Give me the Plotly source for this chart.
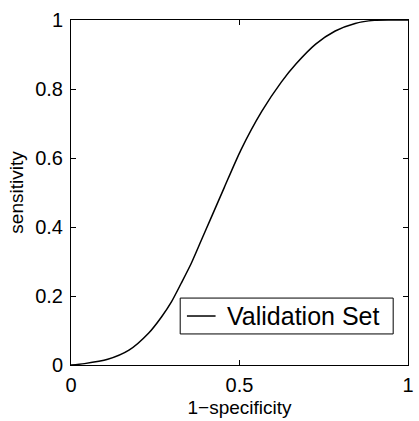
import plotly.graph_objects as go

fpr = [0, 0.04, 0.109, 0.172, 0.23, 0.269, 0.298, 0.327, 0.357, 0.386, 0.415,
       0.455, 0.504, 0.566, 0.624, 0.668, 0.726, 0.784, 0.843, 0.9, 0.95, 1]
tpr = [0, 0.004, 0.0165, 0.043, 0.092, 0.14, 0.183, 0.237, 0.295, 0.36, 0.425,
       0.515, 0.623, 0.735, 0.82, 0.873, 0.93, 0.968, 0.99, 0.999, 1.0, 1.0]
series_name = "Validation Set"
x_ticks = [0, 0.5, 1]
x_tick_labels = ["0", "0.5", "1"]
y_ticks = [0, 0.2, 0.4, 0.6, 0.8, 1]
y_tick_labels = ["0", "0.2", "0.4", "0.6", "0.8", "1"]

font_family = "Liberation Sans, Arial, Helvetica, sans-serif"

fig = go.Figure()
fig.add_trace(go.Scatter(
    x=fpr, y=tpr, mode="lines", name=series_name,
    line=dict(color="black", width=1.5, shape="spline", smoothing=0.7),
    showlegend=False,
))

axis_common = dict(
    showline=True, linecolor="black", linewidth=1, mirror="ticks",
    ticks="inside", ticklen=5, tickcolor="black", tickwidth=1,
    showgrid=False, zeroline=False, ticklabeloverflow="allow",
    tickfont=dict(family=font_family, size=20, color="black"),
)

# Legend box (drawn in paper coordinates, like the boxed legend of the original)
leg_x0, leg_x1, leg_y0, leg_y1 = 0.324, 0.956, 0.090, 0.194
leg_mid = (leg_y0 + leg_y1) / 2
fig.add_shape(type="rect", xref="paper", yref="paper",
              x0=leg_x0, x1=leg_x1, y0=leg_y0, y1=leg_y1,
              line=dict(color="black", width=1), fillcolor="white", layer="above")
fig.add_shape(type="line", xref="paper", yref="paper",
              x0=0.344, x1=0.429, y0=leg_mid, y1=leg_mid,
              line=dict(color="black", width=1.5), layer="above")
fig.add_annotation(xref="paper", yref="paper", x=0.458, y=leg_mid,
                   xanchor="left", yanchor="middle", showarrow=False,
                   text=series_name,
                   font=dict(family=font_family, size=25, color="black"))

fig.update_layout(
    width=419, height=421,
    margin=dict(l=71, r=5, t=20, b=56),
    paper_bgcolor="white", plot_bgcolor="white",
    font=dict(family=font_family, color="black"),
    xaxis=dict(range=[0, 1], tickvals=x_ticks, ticktext=x_tick_labels,
               ticklabelstandoff=2,
               title=dict(text="1\u2212specificity", font=dict(size=19), standoff=5),
               **axis_common),
    yaxis=dict(range=[0, 1], tickvals=y_ticks, ticktext=y_tick_labels,
               ticklabelstandoff=3,
               title=dict(text="sensitivity", font=dict(size=19), standoff=6),
               **axis_common),
    showlegend=False,
)

fig.write_html("out.html",
               config={"displayModeBar": False},
               post_script="document.body.style.margin='0px';document.body.style.overflow='hidden';")
